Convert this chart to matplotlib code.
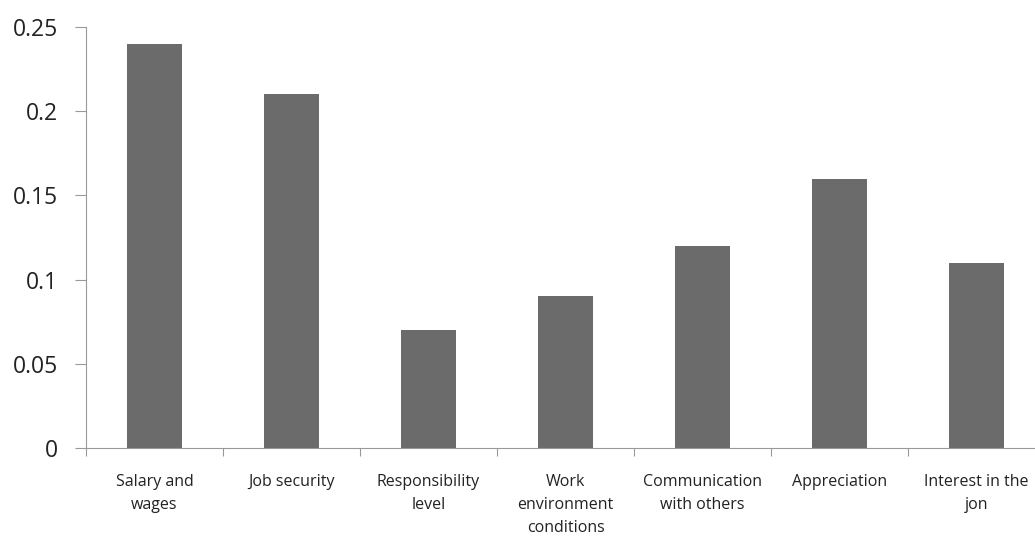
import matplotlib.pyplot as plt
import numpy as np

categories = ["Salary and\nwages", "Job security", "Responsibility\nlevel",
              "Work\nenvironment\nconditions", "Communication\nwith others",
              "Appreciation", "Interest in the\njon"]
values = [0.24, 0.21, 0.07, 0.09, 0.12, 0.16, 0.11]
yticks = [0, 0.05, 0.1, 0.15, 0.2, 0.25]

plt.rcParams['font.family'] = ['Open Sans', 'DejaVu Sans']

fig = plt.figure(figsize=(10.35, 5.41), dpi=100)
ax = fig.add_axes([86 / 1035, 93 / 541, 959 / 1035, 421 / 541])

x = np.arange(len(values))
ax.bar(x, values, width=0.4, color='#6b6b6b', zorder=2)

ax.set_xlim(-0.5, len(values) - 0.5)
ax.set_ylim(0, 0.25)
ax.set_yticks(yticks)
ax.set_yticklabels(['0', '0.05', '0.1', '0.15', '0.2', '0.25'], fontsize=16.5, color='#222222')

# boundaries get tick marks, centres get the labels
ax.set_xticks(np.arange(len(values) + 1) - 0.5)
ax.set_xticklabels([])
ax.set_xticks(x, minor=True)
ax.set_xticklabels(categories, minor=True, fontsize=11.5, color='#222222', linespacing=1.55)
ax.tick_params(axis='x', which='minor', length=0, pad=19)
ax.tick_params(axis='x', which='major', length=6, color='#999999', direction='out')
ax.tick_params(axis='y', length=8, color='#999999', direction='out', pad=12)

for side in ['top', 'right']:
    ax.spines[side].set_visible(False)
for side in ['left', 'bottom']:
    ax.spines[side].set_color('#999999')

plt.savefig('out.png', dpi=100)
